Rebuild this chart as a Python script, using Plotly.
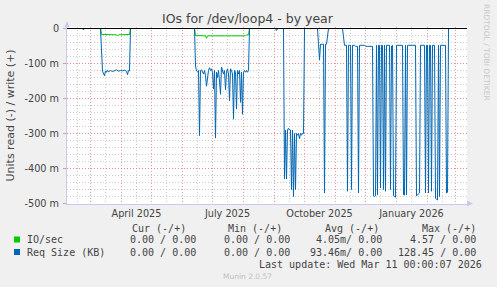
import plotly.graph_objects as go

# ---------------- data ----------------
io_read_dates = ["2025-02-05", "2025-03-11", "2025-03-12", "2025-03-27", "2025-03-28",
                 "2025-03-29", "2025-04-09", "2025-04-10", "2025-06-13", "2025-06-14",
                 "2025-06-24", "2025-06-25", "2025-06-26", "2025-08-03", "2025-08-04",
                 "2025-08-05", "2025-08-06", "2025-08-07", "2026-03-11"]
io_read_vals = [0, 0, -0.017, -0.018, -0.021,
                -0.018, -0.017, 0, 0, -0.020,
                -0.021, -0.028, -0.021, -0.021, -0.018,
                -0.019, -0.018, 0, 0]

req_read_dates = [
    "2025-02-05", "2025-02-21", "2025-02-22", "2025-02-23",
    "2025-03-11", "2025-03-13", "2025-03-15", "2025-03-16", "2025-03-17", "2025-03-18",
    "2025-03-19", "2025-03-21", "2025-03-23", "2025-03-25", "2025-03-27", "2025-03-29",
    "2025-03-31", "2025-04-02", "2025-04-04", "2025-04-06", "2025-04-07", "2025-04-08",
    "2025-04-09", "2025-04-10",
    "2025-06-13", "2025-06-14", "2025-06-15", "2025-06-16", "2025-06-17", "2025-06-18",
    "2025-06-19", "2025-06-20", "2025-06-21", "2025-06-22", "2025-06-23", "2025-06-24",
    "2025-06-25", "2025-06-26", "2025-06-27", "2025-06-28", "2025-06-29", "2025-06-30",
    "2025-07-01", "2025-07-02", "2025-07-03", "2025-07-04", "2025-07-05", "2025-07-06",
    "2025-07-07", "2025-07-08", "2025-07-09", "2025-07-10", "2025-07-11", "2025-07-12",
    "2025-07-13", "2025-07-14", "2025-07-15", "2025-07-16", "2025-07-17", "2025-07-18",
    "2025-07-19", "2025-07-20", "2025-07-21", "2025-07-22", "2025-07-23", "2025-07-24",
    "2025-07-25", "2025-07-26", "2025-07-27", "2025-07-28", "2025-07-29", "2025-07-30",
    "2025-07-31", "2025-08-01", "2025-08-02", "2025-08-03", "2025-08-04", "2025-08-05",
    "2025-08-06", "2025-08-07",
    "2025-09-02", "2025-09-03", "2025-09-04",
    "2025-09-10", "2025-09-11", "2025-09-12", "2025-09-13", "2025-09-14", "2025-09-15",
    "2025-09-16", "2025-09-17", "2025-09-18", "2025-09-19", "2025-09-20", "2025-09-21",
    "2025-09-22", "2025-09-23", "2025-09-24", "2025-09-25", "2025-09-26", "2025-09-27",
    "2025-09-28", "2025-09-29", "2025-09-30", "2025-10-01",
    "2025-10-14", "2025-10-15", "2025-10-16", "2025-10-17", "2025-10-20", "2025-10-21",
    "2025-10-22", "2025-10-23", "2025-10-24", "2025-10-25",
    "2025-11-08", "2025-11-10", "2025-11-12", "2025-11-13", "2025-11-14", "2025-11-16",
    "2025-11-17", "2025-11-18", "2025-11-20", "2025-11-21", "2025-11-23", "2025-11-24",
    "2025-11-25", "2025-11-30", "2025-12-01", "2025-12-08", "2025-12-09", "2025-12-10",
    "2025-12-11", "2025-12-12", "2025-12-13", "2025-12-14", "2025-12-15", "2025-12-16",
    "2025-12-17", "2025-12-18", "2025-12-19", "2025-12-20", "2025-12-21", "2025-12-22",
    "2025-12-25", "2025-12-26", "2025-12-27", "2025-12-28", "2025-12-29", "2025-12-30",
    "2025-12-31", "2026-01-01", "2026-01-07", "2026-01-08", "2026-01-09", "2026-01-10",
    "2026-01-11", "2026-01-12", "2026-01-20", "2026-01-21", "2026-01-22", "2026-01-23",
    "2026-01-24", "2026-01-25", "2026-01-29", "2026-01-30", "2026-01-31", "2026-02-01",
    "2026-02-02", "2026-02-03", "2026-02-04", "2026-02-05", "2026-02-06", "2026-02-08",
    "2026-02-09", "2026-02-10", "2026-02-11", "2026-02-12", "2026-02-13", "2026-02-14",
    "2026-02-19", "2026-02-20", "2026-02-21", "2026-02-22", "2026-03-11"]
req_read_vals = [
    0, 0, -0.004, 0,
    0, -0.122, -0.135, -0.121, -0.125, -0.119,
    -0.124, -0.120, -0.123, -0.120, -0.118, -0.122,
    -0.120, -0.121, -0.119, -0.122, -0.132, -0.120,
    -0.121, 0,
    0, -0.107, -0.121, -0.123, -0.120, -0.306,
    -0.120, -0.118, -0.125, -0.130, -0.120, -0.135,
    -0.165, -0.130, -0.120, -0.112, -0.120, -0.115,
    -0.125, -0.173, -0.120, -0.313, -0.125, -0.140,
    -0.120, -0.150, -0.188, -0.110, -0.125, -0.130,
    -0.120, -0.175, -0.125, -0.115, -0.130, -0.207,
    -0.115, -0.120, -0.130, -0.259, -0.120, -0.125,
    -0.230, -0.120, -0.130, -0.120, -0.211, -0.125,
    -0.245, -0.125, -0.120, -0.125, -0.120, -0.125,
    -0.120, 0,
    0, -0.006, 0,
    0, -0.430, -0.290, -0.430, -0.290, -0.285,
    -0.290, -0.290, -0.460, -0.290, -0.480, -0.300,
    -0.460, -0.300, -0.305, -0.300, -0.315, -0.300,
    -0.305, -0.300, -0.300, 0,
    0, -0.045, -0.090, -0.045, -0.045, -0.470,
    -0.045, -0.045, -0.020, 0,
    0, -0.048, -0.048, -0.465, -0.048, -0.048,
    -0.460, -0.048, -0.048, -0.051, -0.051, -0.470,
    -0.048, -0.048, -0.051, -0.051, -0.478, -0.480,
    -0.478, -0.048, -0.475, -0.048, -0.048, -0.455,
    -0.048, -0.048, -0.460, -0.048, -0.465, -0.048,
    -0.048, -0.460, -0.050, -0.048, -0.478, -0.480,
    -0.482, -0.048, -0.048, -0.475, -0.476, -0.048,
    -0.475, -0.048, -0.048, -0.478, -0.476, -0.473,
    -0.470, -0.048, -0.048, -0.470, -0.048, -0.048,
    -0.470, -0.048, -0.048, -0.465, -0.048, -0.048,
    -0.485, -0.488, -0.490, -0.048, -0.480, -0.048,
    -0.048, -0.470, -0.468, 0, 0]

write_dates = ["2025-02-05", "2026-03-11"]
io_write_vals = [0, 0]
req_write_vals = [0, 0]

y_tick_vals = [0, -0.1, -0.2, -0.3, -0.4, -0.5]
y_tick_text = ["0", "-100 m", "-200 m", "-300 m", "-400 m", "-500 m"]
x_label_dates = ["2025-04-16", "2025-07-16", "2025-10-16", "2026-01-16"]
x_label_text = ["April 2025", "July 2025", "October 2025", "January 2026"]

series_names = ["IO/sec", "Req Size (KB)"]
series_colors = ["#00CC00", "#0066B3"]
cur_vals = ["0.00 / 0.00", "0.00 / 0.00"]
min_vals = ["0.00 / 0.00", "0.00 / 0.00"]
avg_vals = ["4.05m/ 0.00", "93.46m/ 0.00"]
max_vals = ["4.57 / 0.00", "128.45 / 0.00"]
col_headers = ["Cur (-/+)", "Min (-/+)", "Avg (-/+)", "Max (-/+)"]

# ---------------- geometry ----------------
W, H = 497, 287
L, R, T, B = 67, 30, 27, 83
PW, PH = W - L - R, H - T - B


def px(x):
    return (x - L) / PW


def py(y):
    return (T + PH - y) / PH


MAJOR = "rgba(230,120,120,0.75)"
MINOR = "rgba(170,170,170,0.6)"
AXIS = "#C8C8F0"
TXT = "#444444"
SANS = "DejaVu Sans"
MONO = "DejaVu Sans Mono"

x_range = ["2025-02-05 12:00", "2026-03-12 12:00"]
y_range = [-0.5 - 0.5 / 350, 1.5 / 350]

fig = go.Figure()
fig.add_trace(go.Scatter(x=io_read_dates, y=io_read_vals, mode="lines",
                         line=dict(color=series_colors[0], width=1), showlegend=False))
fig.add_trace(go.Scatter(x=req_read_dates, y=req_read_vals, mode="lines",
                         line=dict(color=series_colors[1], width=1), showlegend=False))
fig.add_trace(go.Scatter(x=write_dates, y=io_write_vals, mode="lines", xaxis="x2",
                         line=dict(color=series_colors[0], width=1), showlegend=False))
fig.add_trace(go.Scatter(x=write_dates, y=req_write_vals, mode="lines", xaxis="x2",
                         line=dict(color=series_colors[1], width=1), showlegend=False))

fig.update_layout(
    width=W, height=H,
    margin=dict(l=L, r=R, t=T, b=B, pad=0),
    paper_bgcolor="#F0F0F0", plot_bgcolor="#FFFFFF",
    showlegend=False,
    xaxis=dict(type="date", range=x_range, tickmode="linear", tick0="2025-01-01",
               dtick="M1", showticklabels=False, ticks="", showgrid=True,
               gridcolor=MAJOR, griddash="1px,2px", gridwidth=1, zeroline=False,
               showline=True, linecolor=AXIS, linewidth=1,
               minor=dict(tick0="2025-01-16", dtick="M1", showgrid=True,
                          gridcolor=MINOR, griddash="1px,2px", gridwidth=1, ticks="")),
    xaxis2=dict(type="date", range=x_range, overlaying="x", anchor="y", side="bottom",
                tickmode="array", tickvals=x_label_dates, ticktext=x_label_text,
                showgrid=False, zeroline=False, showline=False, ticks="",
                ticklabelstandoff=2,
                tickfont=dict(family=SANS, size=9.7, color=TXT)),
    yaxis=dict(range=y_range, tickmode="array", tickvals=y_tick_vals, ticktext=y_tick_text,
               showgrid=True, gridcolor=MAJOR, griddash="1px,2px", gridwidth=1,
               zeroline=False, showline=True, linecolor=AXIS, linewidth=1,
               ticks="outside", ticklen=3, tickcolor=MAJOR, ticklabelstandoff=2,
               tickfont=dict(family=SANS, size=9.7, color=TXT),
               minor=dict(dtick=0.02, tick0=0, showgrid=True, gridcolor=MINOR,
                          griddash="1px,2px", gridwidth=1, ticks="")),
)

shapes = [
    # zero rule drawn above the data, as rrdtool does
    dict(type="line", xref="paper", yref="y", x0=0, x1=1, y0=0, y1=0,
         line=dict(color="#000000", width=1), layer="above"),
    # axis arrows
    dict(type="path", xref="paper", yref="paper",
         path=f"M {px(64.5)} {py(27)} L {px(69.5)} {py(27)} L {px(67)} {py(21)} Z",
         fillcolor=AXIS, line=dict(width=0)),
    dict(type="path", xref="paper", yref="paper",
         path=f"M {px(467)} {py(200.5)} L {px(467)} {py(206.5)} L {px(473)} {py(203.5)} Z",
         fillcolor=AXIS, line=dict(width=0)),
]
row_y = [239.5, 252]
for i, c in enumerate(series_colors):
    shapes.append(dict(type="rect", xref="paper", yref="paper",
                       x0=px(14), x1=px(20), y0=py(row_y[i] - 3), y1=py(row_y[i] + 3),
                       fillcolor=c, line=dict(width=0)))
fig.update_layout(shapes=shapes)

ann = []


def text(s, x, y, xanchor="left", size=10, family=MONO, color=TXT, angle=0):
    ann.append(dict(text=s, x=px(x), y=py(y), xref="paper", yref="paper",
                    xanchor=xanchor, yanchor="middle", showarrow=False,
                    textangle=angle, borderpad=0,
                    font=dict(family=family, size=size, color=color)))


text("IOs for /dev/loop4 - by year", 248, 19, "center", 12.5, SANS, "#444444")
text("Units read (-) / write (+)", 10, 115.5, "center", 11, SANS, TXT, -90)
text("RRDTOOL / TOBI OETIKER", 487, 52, "center", 7.5, SANS, "#C8C8C8", 90)

head_right = [187, 283, 380, 476.5]
val_right = [197, 290.7, 383.3, 476.7]
for h, xr in zip(col_headers, head_right):
    text(h, xr, 228, "right")
for i, name in enumerate(series_names):
    text(name, 26, row_y[i], "left")
    for vals, xr in zip([cur_vals, min_vals, avg_vals, max_vals], val_right):
        text(vals[i], xr, row_y[i], "right")
text("Last update: Wed Mar 11 00:00:07 2026", 482.5, 264, "right")
text("Munin 2.0.57", 247.5, 276, "center", 7.5, SANS, "#C0C0C0")
fig.update_layout(annotations=ann)

fig.write_html("out.html")
